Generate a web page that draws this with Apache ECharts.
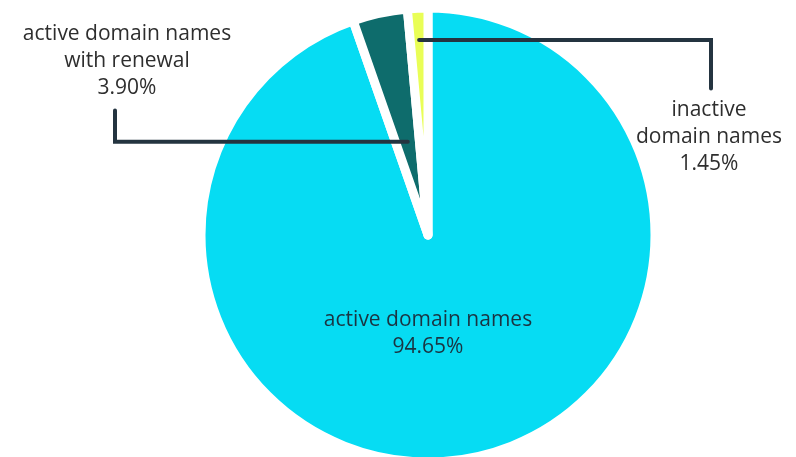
<!DOCTYPE html>
<html>
<head>
<meta charset="utf-8">
<script src="https://cdn.jsdelivr.net/npm/echarts@6/dist/echarts.min.js"></script>
<style>html,body{margin:0;padding:0;background:#fff}#c{width:796px;height:457px}</style>
</head>
<body>
<div id="c"></div>
<script>
const categories = ['active domain names', 'active domain names\nwith renewal', 'inactive\ndomain names'];
const values = [94.65, 3.90, 1.45];
const colors = ['#06DCF3', '#0E6C6C', '#E9FE56'];

const CX = 428, CY = 235, R = 227;
// label block centres, elbow x of leader lines, leader start radius (fraction of R)
const labelPos = [[428, 334], [127, 61], [709, 137]];
const elbowX = [0, 115, 711];
const lineStartRadius = [0, 0.42, 0.86];

const chart = echarts.init(document.getElementById('c'));
const total = values.reduce((a, b) => a + b, 0);
function midAngle(i) {
  let acc = 0;
  for (let k = 0; k < i; k++) acc += values[k];
  return (acc + values[i] / 2) / total * Math.PI * 2;
}
const common = {
  type: 'pie',
  center: [CX, CY],
  radius: [0, R],
  startAngle: 90,
  clockwise: true,
  silent: true
};
chart.setOption({
  animation: false,
  series: [
    Object.assign({}, common, {
      z: 2,
      itemStyle: { borderColor: '#fff', borderWidth: 9, borderJoin: 'round' },
      label: { show: false },
      labelLine: { show: false },
      data: categories.map((c, i) => ({ name: c, value: values[i], itemStyle: { color: colors[i] } }))
    }),
    Object.assign({}, common, {
      z: 5,
      itemStyle: { color: 'rgba(0,0,0,0)', borderWidth: 0 },
      label: {
        show: true,
        position: 'outside',
        fontFamily: 'Open Sans',
        fontSize: 21,
        lineHeight: 27,
        color: '#2e2e2e',
        align: 'center',
        overflow: 'none',
        width: 300,
        formatter: p => p.name + '\n' + values[p.dataIndex].toFixed(2) + '%'
      },
      labelLine: { show: true, lineStyle: { color: '#243440', width: 4, cap: 'round', join: 'miter' } },
      labelLayout: function (params) {
        const i = params.dataIndex;
        const [lx, ly] = labelPos[i];
        const out = { x: lx, y: ly, align: 'center', verticalAlign: 'middle' };
        if (i > 0) {
          const a = midAngle(i);
          const r = lineStartRadius[i] * R;
          const sx = CX + r * Math.sin(a);
          const sy = CY - r * Math.cos(a);
          const h = params.labelRect.height;
          const ey = sy < ly ? ly - h / 2 - 8 : ly + h / 2 + 9;
          out.labelLinePoints = [[sx, sy], [elbowX[i], sy], [elbowX[i], ey]];
        }
        return out;
      },
      data: categories.map((c, i) => ({
        name: c,
        value: values[i],
        label: i === 0 ? { position: 'inside', color: '#1b3442' } : {},
        labelLine: i === 0 ? { show: false } : {}
      }))
    })
  ]
});
</script>
</body>
</html>
